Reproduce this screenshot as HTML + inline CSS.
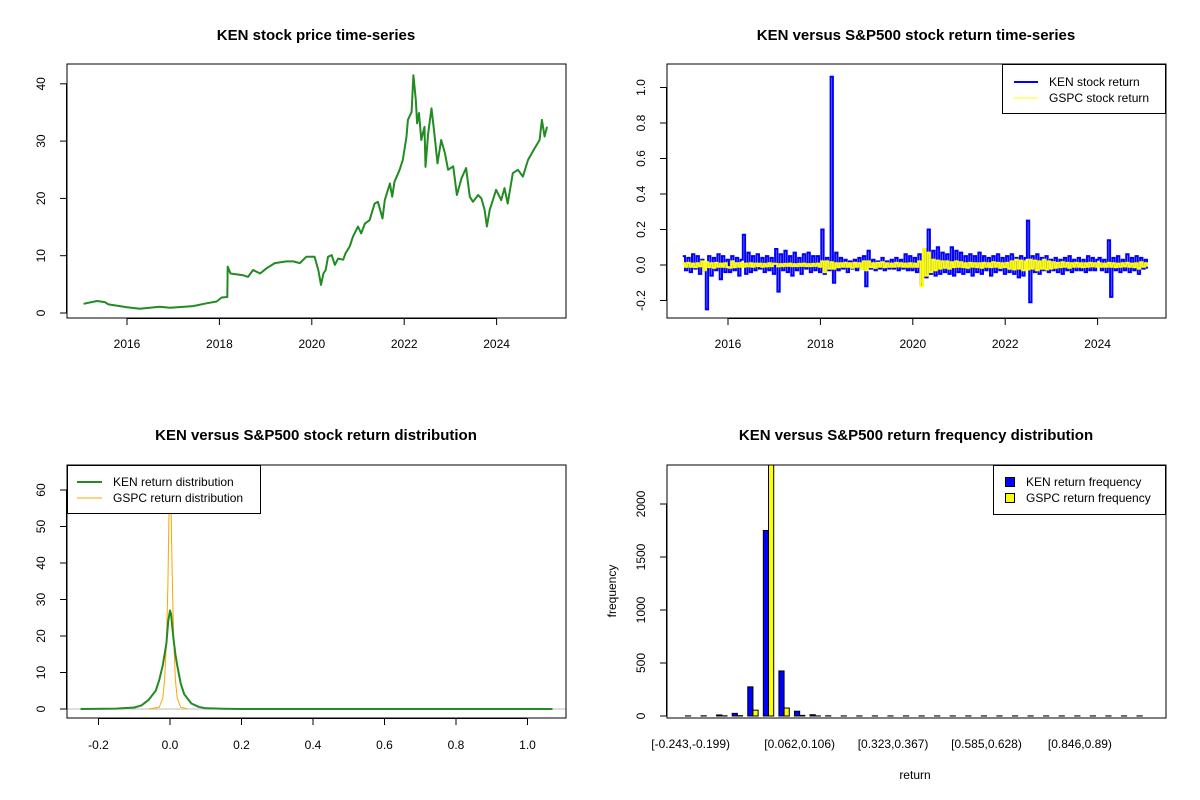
<!DOCTYPE html>
<html><head><meta charset="utf-8"><style>
body{margin:0;background:#fff}
svg{display:block;font-family:"Liberation Sans",Arial,sans-serif}
.t{font-weight:bold;font-size:15px;text-anchor:middle}
.k{font-size:12px}
</style></head><body>
<svg id="s" width="1200" height="800" viewBox="0 0 1200 800">
<rect width="1200" height="800" fill="#fff"/>
<text class="t" x="316" y="40">KEN stock price time-series</text>
<text class="t" x="916" y="40">KEN versus S&amp;P500 stock return time-series</text>
<text class="t" x="316" y="440">KEN versus S&amp;P500 stock return distribution</text>
<text class="t" x="916" y="440">KEN versus S&amp;P500 return frequency distribution</text>
<g id="p1"></g>
<g id="p2"></g>
<g id="p3"></g>
<g id="p4"></g>
</svg>
<script>
// ---- Panel 1 data: price ----
const priceYears=[2015.06,2015.35,2015.52,2015.6,2016.0,2016.28,2016.71,2016.93,2017.43,2017.72,2017.94,2018.05,2018.17,2018.18,2018.24,2018.51,2018.62,2018.73,2018.88,2019.02,2019.2,2019.45,2019.6,2019.74,2019.88,2020.06,2020.14,2020.2,2020.25,2020.3,2020.35,2020.43,2020.5,2020.57,2020.68,2020.73,2020.82,2020.89,2021.0,2021.07,2021.15,2021.25,2021.36,2021.43,2021.53,2021.58,2021.69,2021.74,2021.79,2021.9,2021.97,2022.05,2022.08,2022.16,2022.2,2022.25,2022.28,2022.32,2022.37,2022.44,2022.46,2022.52,2022.59,2022.66,2022.72,2022.8,2022.88,2022.95,2023.06,2023.14,2023.24,2023.34,2023.42,2023.49,2023.6,2023.67,2023.74,2023.79,2023.85,2023.92,2023.99,2024.1,2024.17,2024.24,2024.35,2024.46,2024.57,2024.68,2024.82,2024.93,2024.98,2025.04,2025.09];
const priceValues=[1.6,2.1,1.9,1.5,1.0,0.75,1.1,0.9,1.2,1.7,2.0,2.7,2.8,8.1,6.9,6.6,6.3,7.5,6.9,7.8,8.7,9.0,9.0,8.7,9.8,9.8,7.5,4.9,6.9,7.5,9.8,10.1,8.4,9.5,9.3,10.4,11.6,13.3,15.1,13.9,15.6,16.2,19.1,19.4,16.5,19.7,22.6,20.3,22.9,25.0,26.7,30.8,33.7,35.1,41.5,37.2,33.1,34.9,30.2,32.5,25.5,31.4,35.7,30.8,26.1,30.2,27.9,25.0,25.6,20.6,23.5,25.3,20.3,19.4,20.6,20.0,18.0,15.1,18.0,19.7,21.5,19.7,21.8,19.1,24.4,25.0,23.8,26.7,28.7,30.2,33.7,30.8,32.5];
const priceYTicks=[0,10,20,30,40];
const yearTicks=[2016,2018,2020,2022,2024];
// ---- Panel 2 data: returns ----
const kenStart=2015.02, kenStep=0.05;
const kenReturns=[0.05,-0.03,0.04,-0.04,0.06,-0.02,0.05,-0.05,0.03,-0.03,-0.25,0.05,-0.06,0.04,-0.03,0.06,-0.08,0.05,-0.04,0.03,
-0.04,0.05,-0.03,0.04,-0.06,0.03,0.17,-0.05,0.07,-0.04,0.05,-0.03,0.06,-0.02,0.04,-0.04,0.05,-0.03,0.04,-0.05,
0.09,-0.15,0.06,-0.03,0.08,-0.04,0.05,-0.06,0.07,-0.03,0.04,-0.05,0.06,-0.02,0.07,-0.04,0.05,-0.03,0.05,-0.04,
0.2,-0.05,0.04,-0.03,1.06,-0.1,0.07,-0.03,0.04,-0.02,0.03,-0.04,0.02,-0.02,0.03,-0.03,0.04,-0.02,0.05,-0.12,
0.08,-0.02,0.03,-0.03,0.02,-0.02,0.04,-0.03,0.02,-0.02,0.03,-0.02,0.04,-0.03,0.03,-0.02,0.06,-0.03,0.05,-0.03,
0.04,-0.04,0.06,-0.11,0.09,-0.07,0.2,-0.05,0.08,-0.06,0.1,-0.05,0.07,-0.04,0.06,-0.05,0.1,-0.06,0.08,-0.04,
0.07,-0.05,0.05,-0.04,0.06,-0.06,0.05,-0.04,0.07,-0.05,0.05,-0.03,0.04,-0.06,0.05,-0.04,0.06,-0.03,0.04,-0.05,
0.05,-0.04,0.06,-0.05,0.04,-0.07,0.05,-0.06,0.04,0.25,-0.21,0.05,-0.04,0.06,-0.05,0.04,-0.03,0.05,-0.04,0.03,
-0.03,0.04,-0.04,0.03,-0.05,0.04,-0.03,0.05,-0.04,0.03,-0.03,0.04,-0.03,0.03,-0.04,0.05,-0.03,0.04,-0.03,0.03,
0.04,-0.03,0.03,-0.04,0.14,-0.18,0.04,-0.03,0.05,-0.04,0.03,-0.03,0.06,-0.04,0.04,-0.03,0.05,-0.05,0.04,-0.02,
0.03,-0.02];
const gspcStart=2015.02, gspcStep=0.05;
const gspcReturns=[0.01,-0.01,0.012,-0.01,0.008,-0.012,0.01,-0.008,0.02,-0.03,0.015,-0.012,0.01,-0.015,0.012,-0.01,0.008,-0.01,0.01,-0.012,
-0.015,0.02,-0.012,0.01,-0.01,0.012,-0.01,0.008,-0.008,0.01,-0.01,0.008,-0.006,0.008,-0.01,0.006,-0.008,0.01,-0.006,0.008,
0.006,-0.008,0.005,-0.006,0.006,-0.005,0.008,-0.006,0.005,-0.006,0.006,-0.005,0.008,-0.006,0.005,-0.006,0.006,-0.005,0.008,-0.01,
0.02,-0.04,0.02,-0.02,0.015,-0.02,0.01,-0.012,0.01,-0.01,0.012,-0.01,0.01,-0.015,0.012,-0.01,0.01,-0.02,0.02,-0.03,
0.02,-0.012,0.01,-0.015,0.012,-0.01,0.015,-0.012,0.01,-0.01,0.008,-0.01,0.012,-0.008,0.01,-0.01,0.008,-0.01,0.01,-0.01,
0.008,-0.01,0.02,-0.12,0.09,-0.06,0.07,-0.04,0.03,-0.03,0.025,-0.02,0.02,-0.015,0.02,-0.02,0.015,-0.012,0.02,-0.01,
0.015,-0.012,0.01,-0.015,0.012,-0.01,0.01,-0.012,0.01,-0.015,0.012,-0.01,0.01,-0.012,0.015,-0.01,0.012,-0.015,0.01,-0.012,
0.012,-0.02,0.02,-0.025,0.03,-0.02,0.025,-0.03,0.02,-0.025,0.03,-0.02,0.025,-0.03,0.02,-0.02,0.03,-0.025,0.02,-0.02,
0.015,-0.015,0.012,-0.012,0.015,-0.01,0.012,-0.015,0.01,-0.01,0.012,-0.01,0.01,-0.012,0.01,-0.01,0.012,-0.008,0.01,-0.01,
0.01,-0.01,0.008,-0.01,0.012,-0.01,0.01,-0.012,0.008,-0.01,0.01,-0.008,0.012,-0.01,0.008,-0.012,0.01,-0.02,0.015,-0.01,
0.01,-0.01];
const returnYTicks=[-0.2,0.0,0.2,0.4,0.6,0.8,1.0];
const returnYLabels=["-0.2","0.0","0.2","0.4","0.6","0.8","1.0"];
// ---- Panel 3 data: densities ----
const kenDensX=[-0.25,-0.15,-0.1,-0.08,-0.06,-0.04,-0.03,-0.02,-0.015,-0.01,-0.005,0,0.003,0.006,0.01,0.015,0.02,0.03,0.04,0.06,0.08,0.1,0.15,0.2,0.6,1.07];
const kenDensY=[0,0.1,0.4,1,2.5,5,8,12,15,18,24,27,26,23,19,15,12,7,4,1.5,0.6,0.2,0.05,0,0,0];
const gspcDensX=[-0.06,-0.03,-0.02,-0.015,-0.01,-0.006,-0.003,0,0.003,0.006,0.01,0.015,0.02,0.03,0.05];
const gspcDensY=[0,0.5,3,8,18,34,52,62,54,38,20,8,3,0.5,0];
const densXTicks=[-0.2,0,0.2,0.4,0.6,0.8,1.0];
const densXLabels=["-0.2","0.0","0.2","0.4","0.6","0.8","1.0"];
const densYTicks=[0,10,20,30,40,50,60];
// ---- Panel 4 data: histogram ----
const binLabels=["[-0.243,-0.199)","[0.062,0.106)","[0.323,0.367)","[0.585,0.628)","[0.846,0.89)"];
const binLabelIdx=[0,7,13,19,25];
const kenFreq=[1,2,10,25,275,1750,425,45,12,2,1,1,1,1,1,1,1,1,1,1,1,1,1,1,1,1,1,1,1,1];
const gspcFreq=[0,0,2,3,55,2700,75,6,1,0,0,0,0,0,0,0,0,0,0,0,0,0,0,0,0,0,0,0,0,0];
const freqYTicks=[0,500,1000,1500,2000];

const NS="http://www.w3.org/2000/svg";
function mk(par,tag,at,txt){const e=document.createElementNS(NS,tag);for(const k in at)e.setAttribute(k,at[k]);if(txt!==undefined)e.textContent=txt;par.appendChild(e);return e;}
function box(g,x0,y0,x1,y1){const r=mk(g,'rect',{x:x0,y:y0,width:x1-x0,height:y1-y0,fill:'none',stroke:'#000','stroke-width':1});}
function xaxis(g,ticks,labels,sx,yb,x0,x1,ly){
 const a=mk(g,'g',{});
 if(x0!==null)mk(a,'line',{x1:x0,x2:x1,y1:yb+0.5,y2:yb+0.5,stroke:'#000'});
 ticks.forEach((t,i)=>{const x=sx(t);mk(a,'line',{x1:x,x2:x,y1:yb,y2:yb+7,stroke:'#000'});
  const l=mk(a,'text',{x:x,y:ly,'text-anchor':'middle',class:'k'},labels[i]);});
}
function yaxis(g,ticks,labels,sy,xl,lx){
 const a=mk(g,'g',{});
 mk(a,'line',{x1:xl-0.5,x2:xl-0.5,y1:sy(ticks[0]),y2:sy(ticks[ticks.length-1]),stroke:'#000'});
 ticks.forEach((t,i)=>{const y=sy(t);mk(a,'line',{x1:xl-7,x2:xl,y1:y,y2:y,stroke:'#000'});
  const l=mk(a,'text',{x:lx,y:y,'text-anchor':'middle',class:'k',transform:`rotate(-90 ${lx} ${y})`},labels[i]);});
}
function poly(g,xs,ys,sx,sy,col,w,name){const p=xs.map((x,i)=>sx(x).toFixed(1)+','+sy(ys[i]).toFixed(1)).join(' ');const e=mk(g,'polyline',{points:p,fill:'none',stroke:col,'stroke-width':w,'stroke-linejoin':'round'});return e;}
function stepPoly(g,xs,ys,sx,sy,col,w,name){const pts=[];xs.forEach((x,i)=>{if(i>0)pts.push(sx(x).toFixed(1)+','+sy(ys[i-1]).toFixed(1));pts.push(sx(x).toFixed(1)+','+sy(ys[i]).toFixed(1));});const e=mk(g,'polyline',{points:pts.join(' '),fill:'none',stroke:col,'stroke-width':w});return e;}

// Panel 1
(function(){const g=document.getElementById('p1');
 const sx=v=>127+(v-2016)*46.2, sy=v=>313-v*5.73;
 poly(g,priceYears,priceValues,sx,sy,'#228B22',2,'price-line');
 box(g,67,64,566,318);
 xaxis(g,yearTicks,yearTicks.map(String),sx,318,sx(2016),sx(2024),348);
 yaxis(g,priceYTicks,priceYTicks.map(String),sy,67,45);
})();
// Panel 2
(function(){const g=document.getElementById('p2');
 const sx=v=>728+(v-2016)*46.2, sy=v=>265-v*177.5;
 stepPoly(g,kenReturns.map((_,i)=>kenStart+i*kenStep),kenReturns,sx,sy,'#0000FF',2,'ken-return-line');
 stepPoly(g,gspcReturns.map((_,i)=>gspcStart+i*gspcStep),gspcReturns,sx,sy,'#FFFF00',2,'gspc-return-line');
 box(g,667,64,1166,318);
 xaxis(g,yearTicks,yearTicks.map(String),sx,318,sx(2016),sx(2024),348);
 yaxis(g,returnYTicks,returnYLabels,sy,667,645);
 const L=mk(g,'g',{});
 mk(L,'rect',{x:1002.5,y:64.5,width:163,height:49,fill:'#fff',stroke:'#000'});
 mk(L,'line',{x1:1014,x2:1038,y1:82,y2:82,stroke:'#0000FF','stroke-width':2});
 mk(L,'line',{x1:1014,x2:1038,y1:98,y2:98,stroke:'#FFFF00','stroke-width':1});
 const a=mk(L,'text',{x:1049,y:86,class:'k'},'KEN stock return');
 const b=mk(L,'text',{x:1049,y:102,class:'k'},'GSPC stock return');
})();
// Panel 3
(function(){const g=document.getElementById('p3');
 const sx=v=>170+v*357.5, sy=v=>709-v*3.65;
 const cp=mk(g,'clipPath',{id:'c3'});mk(cp,'rect',{x:67,y:465,width:499,height:253});
 const inner=mk(g,'g',{'clip-path':'url(#c3)'});
 const z=mk(inner,'line',{x1:67,x2:566,y1:sy(0),y2:sy(0),stroke:'#bebebe'});
 poly(inner,gspcDensX,gspcDensY,sx,sy,'#FFA500',1,'gspc-density-line');
 poly(inner,kenDensX,kenDensY,sx,sy,'#228B22',2,'ken-density-line');
 box(g,67,465,566,718);
 xaxis(g,densXTicks,densXLabels,sx,718,sx(-0.2),sx(1.0),749);
 yaxis(g,densYTicks,densYTicks.map(String),sy,67,45);
 const L=mk(g,'g',{});
 mk(L,'rect',{x:67.5,y:465.5,width:193,height:48,fill:'#fff',stroke:'#000'});
 mk(L,'line',{x1:77,x2:102,y1:482,y2:482,stroke:'#228B22','stroke-width':2});
 mk(L,'line',{x1:77,x2:102,y1:498,y2:498,stroke:'#FFA500','stroke-width':1});
 const a=mk(L,'text',{x:113,y:486,class:'k'},'KEN return distribution');
 const b=mk(L,'text',{x:113,y:502,class:'k'},'GSPC return distribution');
})();
// Panel 4
(function(){const g=document.getElementById('p4');
 const ux=u=>667+(u+2.56)*5.19, sy=v=>716-v*0.106;
 const cp=mk(g,'clipPath',{id:'c4'});mk(cp,'rect',{x:667,y:465,width:499,height:253});
 const inner=mk(g,'g',{'clip-path':'url(#c4)'});
 kenFreq.forEach((v,i)=>{const x0=ux(3*i+1),x1=ux(3*i+2);const r=mk(inner,'rect',{x:x0,y:sy(v),width:x1-x0,height:Math.max(sy(0)-sy(v),0),fill:'#0000FF',stroke:'#000','stroke-width':1});});
 gspcFreq.forEach((v,i)=>{const x0=ux(3*i+2),x1=ux(3*i+3);const r=mk(inner,'rect',{x:x0,y:sy(v),width:x1-x0,height:Math.max(sy(0)-sy(v),0),fill:'#FFFF00',stroke:'#000','stroke-width':1});});
 box(g,667,465,1166,718);
 binLabelIdx.forEach((bi,k)=>{const x=ux(3*bi+2);const t=mk(g,'text',{x:x,y:748,'text-anchor':'middle',class:'k'},binLabels[k]);});
 yaxis(g,freqYTicks,freqYTicks.map(String),sy,667,645);
 const xt=mk(g,'text',{x:915,y:779,'text-anchor':'middle',class:'k'},'return');
 const yt=mk(g,'text',{x:616,y:591,'text-anchor':'middle',class:'k',transform:'rotate(-90 616 591)'},'frequency');
 const L=mk(g,'g',{});
 mk(L,'rect',{x:993.5,y:465.5,width:172,height:49,fill:'#fff',stroke:'#000'});
 mk(L,'rect',{x:1005.5,y:477.5,width:9,height:9,fill:'#0000FF',stroke:'#000'});
 mk(L,'rect',{x:1005.5,y:493.5,width:9,height:9,fill:'#FFFF00',stroke:'#000'});
 const a=mk(L,'text',{x:1026,y:486,class:'k'},'KEN return frequency');
 const b=mk(L,'text',{x:1026,y:502,class:'k'},'GSPC return frequency');
})();
</script>
</body></html>
